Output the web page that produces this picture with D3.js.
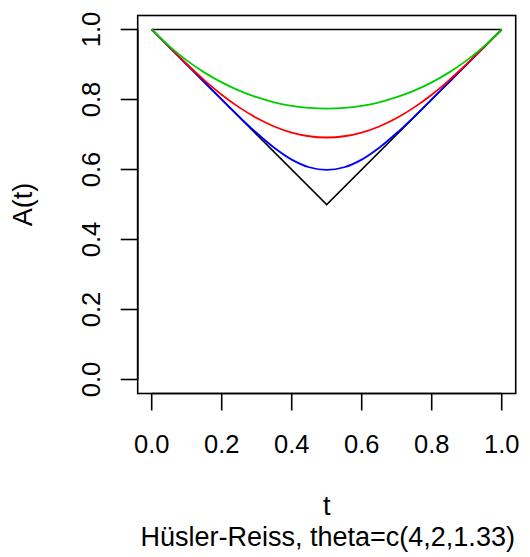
<!DOCTYPE html>
<html>
<head>
<meta charset="utf-8">
<script src="https://cdn.jsdelivr.net/npm/d3@7"></script>
<style>
  body { margin: 0; background: #fff; }
  text { font-family: "Liberation Sans", Arial, sans-serif; fill: #000; }
</style>
</head>
<body>
<svg id="chart"></svg>
<script>
// Hüsler-Reiss Pickands dependence curves
const tValues = [0, 0.05, 0.1, 0.15, 0.2, 0.25, 0.3, 0.35, 0.4, 0.45, 0.5,
  0.55, 0.6, 0.65, 0.7, 0.75, 0.8, 0.85, 0.9, 0.95, 1];
const theta4 = [1, 0.95, 0.9, 0.85, 0.8002, 0.751, 0.7042, 0.6621, 0.6283, 0.6064, 0.5987,
  0.6064, 0.6283, 0.6621, 0.7042, 0.751, 0.8002, 0.85, 0.9, 0.95, 1];
const theta2 = [1, 0.9501, 0.9014, 0.8555, 0.8138, 0.7775, 0.7471, 0.7229, 0.7055, 0.695, 0.6915,
  0.695, 0.7055, 0.7229, 0.7471, 0.7775, 0.8138, 0.8555, 0.9014, 0.9501, 1];
const theta133 = [1, 0.9525, 0.9118, 0.8775, 0.8488, 0.8253, 0.8065, 0.7921, 0.782, 0.7759, 0.7739,
  0.7759, 0.782, 0.7921, 0.8065, 0.8253, 0.8488, 0.8775, 0.9118, 0.9525, 1];
// bounds: max(t, 1-t) and the upper line A = 1
const boundT = [0, 0.5, 1];
const boundA = [1, 0.5, 1];
const upperT = [0, 1];
const upperA = [1, 1];
const tickLabels = ["0.0", "0.2", "0.4", "0.6", "0.8", "1.0"];
const tickValues = [0, 0.2, 0.4, 0.6, 0.8, 1];

const width = 530, height = 557;
const svg = d3.select("#chart").attr("width", width).attr("height", height);

// R-style 4% padding around [0,1]
const x = d3.scaleLinear().domain([-0.04, 1.04]).range([137.7, 515.7]);
const y = d3.scaleLinear().domain([-0.04, 1.04]).range([393.5, 15.5]);

const line = d3.line()
  .x(d => x(d[0]))
  .y(d => y(d[1]));
const curve = d3.line()
  .x(d => x(d[0]))
  .y(d => y(d[1]))
  .curve(d3.curveCatmullRom);

// plot box
svg.append("rect")
  .attr("x", x(-0.04)).attr("y", y(1.04))
  .attr("width", x(1.04) - x(-0.04))
  .attr("height", y(-0.04) - y(1.04))
  .attr("fill", "none").attr("stroke", "#000").attr("stroke-width", 1.6);

// bounds
svg.append("path")
  .attr("d", line(d3.zip(upperT, upperA)))
  .attr("fill", "none").attr("stroke", "#000").attr("stroke-width", 1.6);
svg.append("path")
  .attr("d", line(d3.zip(boundT, boundA)))
  .attr("fill", "none").attr("stroke", "#000").attr("stroke-width", 1.6);

const series = [
  { values: theta4, color: "#0000FF" },
  { values: theta2, color: "#FF0000" },
  { values: theta133, color: "#00CD00" }
];
svg.selectAll("path.curve")
  .data(series)
  .enter()
  .append("path")
  .attr("class", "curve")
  .attr("d", s => curve(d3.zip(tValues, s.values)))
  .attr("fill", "none")
  .attr("stroke", s => s.color)
  .attr("stroke-width", 1.8);

// x axis
const xAxis = svg.append("g");
xAxis.append("line")
  .attr("x1", x(0)).attr("x2", x(1))
  .attr("y1", y(-0.04)).attr("y2", y(-0.04))
  .attr("stroke", "#000").attr("stroke-width", 1.6);
xAxis.selectAll("line.tick")
  .data(tickValues)
  .enter()
  .append("line")
  .attr("class", "tick")
  .attr("x1", d => x(d)).attr("x2", d => x(d))
  .attr("y1", y(-0.04)).attr("y2", y(-0.04) + 17)
  .attr("stroke", "#000").attr("stroke-width", 1.6);
xAxis.selectAll("text")
  .data(tickValues)
  .enter()
  .append("text")
  .attr("x", d => x(d))
  .attr("y", 453)
  .attr("text-anchor", "middle")
  .style("font-size", "25.5px")
  .text((d, i) => tickLabels[i]);

// y axis
const yAxis = svg.append("g");
yAxis.append("line")
  .attr("x1", x(-0.04)).attr("x2", x(-0.04))
  .attr("y1", y(0)).attr("y2", y(1))
  .attr("stroke", "#000").attr("stroke-width", 1.6);
yAxis.selectAll("line.tick")
  .data(tickValues)
  .enter()
  .append("line")
  .attr("class", "tick")
  .attr("x1", x(-0.04) - 17).attr("x2", x(-0.04))
  .attr("y1", d => y(d)).attr("y2", d => y(d))
  .attr("stroke", "#000").attr("stroke-width", 1.6);
yAxis.selectAll("text")
  .data(tickValues)
  .enter()
  .append("text")
  .attr("transform", d => `translate(100, ${y(d)}) rotate(-90)`)
  .attr("text-anchor", "middle")
  .style("font-size", "25.5px")
  .text((d, i) => tickLabels[i]);

// titles
svg.append("text")
  .attr("x", (x(0) + x(1)) / 2).attr("y", 515)
  .attr("text-anchor", "middle")
  .style("font-size", "27px")
  .text("t");
svg.append("text")
  .attr("x", (x(0) + x(1)) / 2 + 1).attr("y", 546)
  .attr("text-anchor", "middle")
  .style("font-size", "27px")
  .text("Hüsler-Reiss, theta=c(4,2,1.33)");
svg.append("text")
  .attr("transform", `translate(32, ${(y(0) + y(1)) / 2}) rotate(-90)`)
  .attr("text-anchor", "middle")
  .style("font-size", "27px")
  .text("A(t)");
</script>
</body>
</html>
